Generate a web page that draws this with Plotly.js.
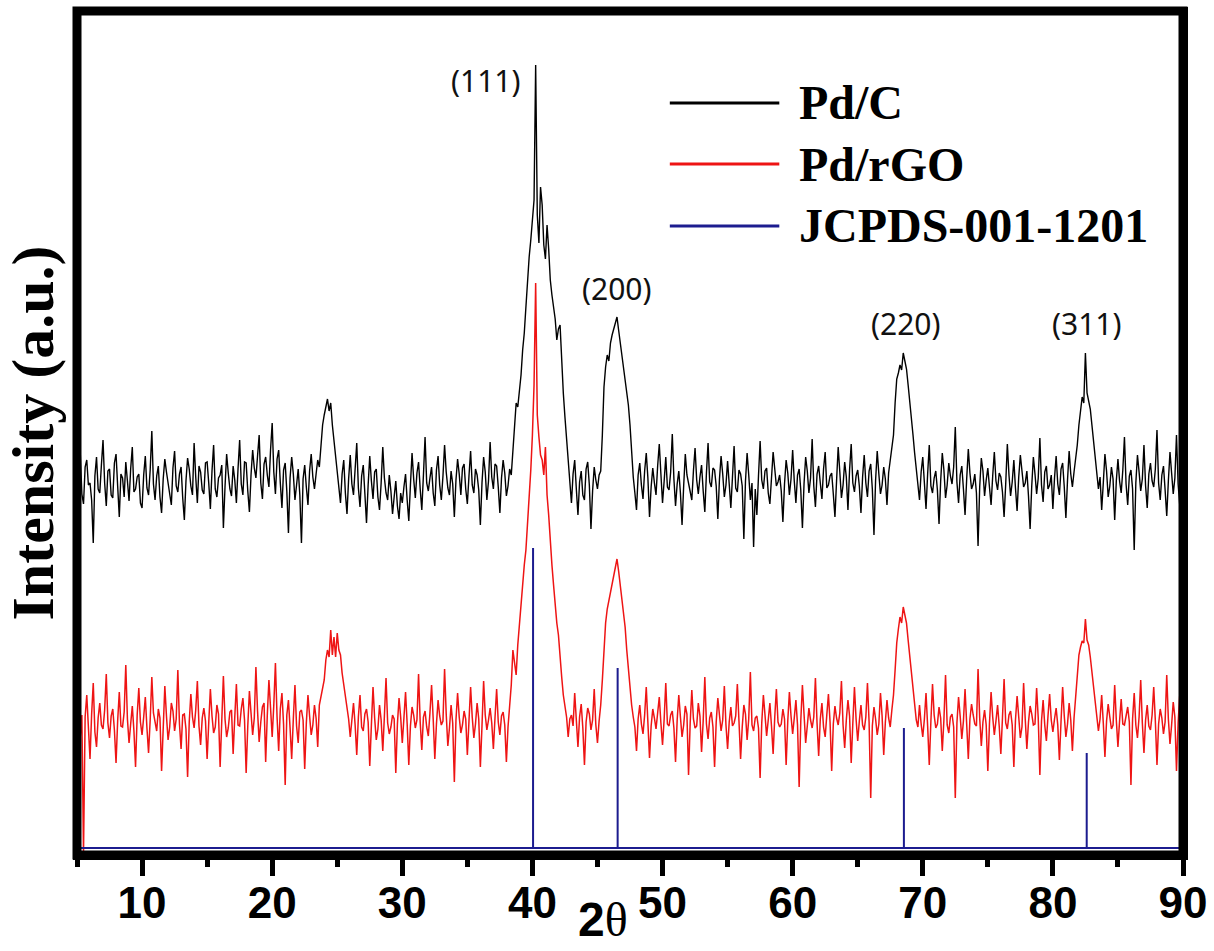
<!DOCTYPE html>
<html>
<head>
<meta charset="utf-8">
<script src="https://cdn.plot.ly/plotly-3.0.1.min.js"></script>
<style>
  html, body { margin: 0; padding: 0; background: #ffffff; }
  #chart { width: 1214px; height: 951px; }
</style>
</head>
<body>
<div id="chart"></div>
<script>
// ---- scan grid (2θ, degrees) ----
const scanStart = 5;
const scanStep = 0.125;

// ---- Pd/C intensities (a.u.), one row = 5° ----
const pdC = [
  368, 382, 402, 361, 351, 388, 395, 370, 372, 355, 312, 379, 398, 366, 362, 390, 415, 372, 349, 384, 386, 360, 357, 392, 401, 369, 338, 381, 377, 358, 393, 374, 354, 386, 408, 363, 366, 378, 381, 352,
  347, 380, 399, 367, 360, 385, 424, 371, 355, 379, 389, 358, 342, 376, 396, 383, 371, 362, 350, 387, 404, 369, 363, 381, 388, 357, 335, 374, 397, 386, 369, 360, 412, 378, 352, 389, 383, 365, 361, 392,
  393, 372, 346, 384, 410, 366, 358, 377, 380, 390, 327, 368, 401, 382, 366, 359, 389, 375, 352, 386, 415, 371, 360, 393, 392, 364, 343, 380, 405, 387, 377, 399, 420, 372, 356, 391, 398, 380, 368, 405,
  432, 383, 361, 396, 405, 372, 347, 385, 392, 364, 322, 377, 398, 381, 355, 370, 386, 360, 312, 376, 390, 368, 350, 384, 401, 378, 366, 381, 395, 388, 412, 430, 440, 448, 456, 444, 452, 430, 415, 400,
  378, 366, 352, 381, 395, 362, 341, 376, 400, 371, 360, 386, 412, 367, 348, 379, 390, 361, 332, 370, 399, 374, 356, 383, 386, 358, 345, 372, 408, 377, 362, 355, 380, 364, 341, 358, 374, 349, 336, 362,
  352, 368, 381, 355, 334, 370, 402, 376, 357, 382, 393, 366, 345, 380, 418, 372, 364, 377, 388, 362, 349, 385, 399, 370, 355, 379, 410, 383, 367, 360, 384, 371, 338, 375, 396, 381, 360, 387, 391, 366,
  351, 379, 404, 370, 362, 386, 380, 365, 330, 372, 398, 383, 355, 374, 413, 378, 366, 391, 389, 368, 342, 377, 395, 382, 359, 369, 386, 380, 402, 430, 452, 448, 462, 480, 505, 522, 548, 575, 598, 615,
  632, 655, 790, 640, 612, 668, 650, 610, 596, 630, 606, 575, 560, 548, 536, 515, 526, 530, 488, 462, 438, 415, 398, 372, 352, 381, 395, 366, 340, 373, 384, 360, 355, 386, 393, 370, 326, 364, 388, 375,
  366, 380, 384, 420, 468, 488, 500, 494, 512, 520, 526, 532, 538, 525, 512, 500, 490, 478, 466, 450, 430, 400, 378, 362, 345, 380, 392, 370, 356, 384, 402, 377, 338, 368, 387, 372, 360, 389, 411, 381,
  352, 374, 398, 368, 365, 383, 421, 376, 349, 371, 384, 362, 330, 369, 401, 380, 372, 366, 355, 384, 407, 375, 361, 378, 390, 364, 343, 382, 412, 373, 368, 387, 385, 369, 336, 376, 399, 381, 358, 370,
  394, 371, 347, 378, 409, 367, 363, 385, 381, 369, 316, 374, 402, 380, 355, 372, 308, 366, 340, 379, 414, 375, 366, 384, 387, 362, 351, 377, 403, 386, 369, 373, 380, 364, 333, 371, 395, 382, 360, 376,
  405, 374, 352, 380, 386, 365, 327, 371, 398, 384, 362, 377, 416, 369, 348, 381, 389, 372, 356, 386, 403, 367, 370, 379, 382, 361, 338, 374, 408, 383, 357, 370, 393, 378, 345, 385, 411, 372, 363, 379,
  385, 369, 342, 378, 400, 372, 358, 384, 391, 366, 320, 375, 404, 381, 361, 370, 388, 376, 350, 382, 397, 405, 420, 452, 476, 482, 490, 485, 502, 494, 486, 470, 455, 438, 420, 402, 385, 372, 355, 383,
  398, 372, 346, 381, 410, 369, 362, 377, 384, 365, 331, 374, 402, 385, 357, 370, 392, 379, 371, 388, 428, 373, 352, 380, 389, 366, 340, 376, 406, 382, 366, 371, 381, 362, 309, 368, 397, 384, 359, 375,
  387, 368, 350, 379, 403, 374, 365, 382, 378, 363, 338, 371, 411, 380, 359, 373, 395, 367, 344, 378, 400, 384, 368, 372, 384, 359, 326, 369, 398, 381, 361, 377, 417, 370, 353, 383, 389, 366, 370, 380,
  346, 377, 399, 371, 360, 386, 392, 368, 337, 375, 404, 381, 368, 383, 395, 410, 430, 448, 458, 452, 502, 462, 455, 446, 430, 415, 398, 380, 366, 378, 345, 372, 401, 384, 358, 369, 388, 376, 335, 374,
  396, 374, 362, 385, 418, 371, 350, 379, 385, 366, 305, 372, 400, 383, 364, 376, 410, 369, 347, 381, 392, 374, 368, 386, 425, 372, 355, 380, 389, 365, 339, 374, 403, 382, 361, 377, 420, 371, 350, 384,
  392
];

// ---- Pd/rGO intensities (a.u.), one row = 5° ----
const pdRGO = [
  150, 128, 118, 140,   2, 138, 160, 127,  96, 141, 172, 123, 108, 137, 152, 130, 126, 145, 181, 132, 117, 139, 146, 125,  92, 134, 163, 129, 128, 143, 190, 136, 112, 131, 149, 124,  88, 140, 167, 133,
  120, 138, 158, 127, 102, 135, 178, 142, 131, 124, 146, 137,  84, 130, 169, 139, 115, 128, 152, 144, 124, 136, 185, 131, 106, 140, 141, 126,  78, 133, 161, 138, 127, 145, 174, 129, 110, 137, 147, 134,
   96, 132, 166, 139, 122, 128, 150, 141,  88, 134, 179, 136, 118, 127, 143, 145, 101, 138, 171, 130, 129, 146, 157, 135,  82, 129, 164, 142, 120, 137, 188, 144, 113, 133, 148, 152,  93, 140, 175, 147,
  118, 150, 192, 138, 104, 146, 162, 131,  70, 140, 155, 127,  96, 136, 170, 129, 112, 143, 145, 135,  86, 132, 160, 139, 120, 130, 150, 137, 108, 150, 158, 168, 175, 195, 205, 198, 225, 200, 218, 198,
  222, 205, 200, 182, 170, 158, 145, 136, 118, 134, 152, 130, 100, 138, 160, 128, 124, 141, 146, 133,  89, 130, 168, 137, 115, 126, 150, 135, 104, 139, 177, 132, 121, 128, 140, 136,  82, 131, 157, 138,
  112, 137, 163, 131,  90, 129, 148, 140, 127, 135, 181, 133, 105, 138, 144, 128, 119, 142, 170, 136,  96, 131, 155, 139, 130, 134, 186, 141, 109, 127, 150, 132,  73, 135, 162, 138, 122, 130, 144, 136,
  100, 134, 168, 138, 117, 131, 152, 136,  88, 129, 174, 140, 125, 135, 147, 132, 106, 137, 166, 133, 120, 139, 143, 130,  93, 128, 150, 170, 205, 190, 180, 210, 232, 250, 270, 290, 305, 330, 352, 385,
  420, 470, 572, 440, 418, 400, 395, 380, 408, 360, 340, 312, 290, 270, 248, 232, 220, 196, 178, 160, 150, 138, 118, 136, 140, 129, 162, 134, 108, 138, 151, 127,  90, 133, 147, 141, 125, 135, 166, 130,
  112, 134, 150, 175, 205, 232, 246, 255, 262, 270, 282, 290, 296, 284, 270, 258, 246, 228, 205, 185, 166, 150, 138, 128, 104, 136, 150, 131, 121, 140, 168, 133,  97, 129, 146, 137, 126, 142, 158, 132,
  110, 136, 172, 131, 129, 140, 144, 127,  93, 135, 160, 138, 118, 130, 149, 141,  80, 132, 165, 136, 127, 129, 152, 139, 103, 134, 178, 131, 116, 137, 143, 128,  88, 133, 157, 140, 124, 135, 169, 130,
  106, 133, 148, 129, 132, 139, 171, 134,  96, 128, 150, 141, 115, 136, 183, 130, 124, 137, 139, 127,  77, 132, 160, 140, 119, 135, 152, 129, 101, 138, 166, 133, 128, 131, 146, 136,  90, 134, 163, 139,
  121, 137, 155, 130,  68, 134, 170, 141, 112, 129, 147, 135, 127, 138, 177, 132,  99, 136, 152, 128, 118, 140, 161, 133,  84, 131, 149, 137, 130, 142, 174, 130, 107, 135, 155, 139,  92, 132, 168, 136,
  114, 134, 150, 130, 125, 138, 172, 133,  57, 129, 148, 136, 120, 131, 162, 139, 100, 133, 155, 137, 128, 145, 160, 185, 212, 226, 238, 232, 248, 240, 232, 215, 200, 184, 168, 150, 135, 128, 150, 131,
  118, 136, 162, 129,  90, 134, 171, 140, 127, 131, 148, 137, 104, 135, 180, 130, 122, 138, 141, 128,  57, 132, 158, 139, 116, 134, 166, 131,  96, 136, 151, 140, 131, 129, 186, 137, 109, 133, 145, 130,
   84, 131, 163, 138, 120, 134, 150, 129, 101, 137, 176, 132, 126, 140, 144, 130,  88, 135, 159, 138, 117, 128, 172, 136, 106, 133, 149, 141, 130, 131, 167, 137,  80, 134, 155, 130, 114, 139, 161, 135,
  123, 136, 147, 130,  95, 133, 168, 139, 118, 131, 152, 135, 104, 137, 158, 178, 200, 208, 214, 212, 236, 215, 210, 198, 182, 165, 150, 138, 124, 136, 160, 132,  98, 134, 151, 138, 126, 130, 170, 135,
  108, 134, 156, 131, 130, 139, 148, 133,  70, 136, 162, 130, 117, 138, 175, 132, 102, 135, 150, 129, 125, 140, 168, 134,  90, 131, 146, 137, 121, 133, 180, 136, 111, 130, 153, 138,  84, 132, 160, 135,
  130
];

// ---- JCPDS-001-1201 reference lines ----
const refPositions = [40.05, 46.55, 68.55, 82.6];
const refTops = [307, 187, 127, 102];
const refBaseline = 7;

// ---- labels ----
const seriesNames = ['Pd/C', 'Pd/rGO', 'JCPDS-001-1201'];
const seriesColors = ['#000000', '#ee1414', '#1c1c8f'];
const peakLabels = ['(111)', '(200)', '(220)', '(311)'];
const xTickValues = [10, 20, 30, 40, 50, 60, 70, 80, 90];

const twoTheta = pdC.map((_, i) => +(scanStart + i * scanStep).toFixed(3));

// stick pattern for the reference card
const refX = [scanStart];
const refY = [refBaseline];
refPositions.forEach((p, i) => {
  refX.push(p, p, p);
  refY.push(refBaseline, refTops[i], refBaseline);
});
refX.push(90);
refY.push(refBaseline);

const traces = [
  { x: twoTheta, y: pdC, type: 'scatter', mode: 'lines', name: seriesNames[0],
    line: { color: seriesColors[0], width: 1.4 }, showlegend: false },
  { x: twoTheta, y: pdRGO, type: 'scatter', mode: 'lines', name: seriesNames[1],
    line: { color: seriesColors[1], width: 1.5 }, showlegend: false },
  { x: refX, y: refY, type: 'scatter', mode: 'lines', name: seriesNames[2],
    line: { color: seriesColors[2], width: 2 }, showlegend: false }
];

// custom legend (long sample lines)
const legendY = [0.891, 0.8187, 0.7453];
const shapes = [
  { type: 'rect', xref: 'paper', yref: 'paper', x0: 0, x1: 1, y0: 0, y1: 1,
    line: { color: '#000', width: 9 }, layer: 'above' }
];
const annotations = [];
seriesNames.forEach((name, i) => {
  shapes.push({ type: 'line', xref: 'paper', yref: 'paper',
    x0: 0.536, x1: 0.635, y0: legendY[i], y1: legendY[i],
    line: { color: seriesColors[i], width: 3 } });
  annotations.push({ xref: 'paper', yref: 'paper', x: 0.651, y: legendY[i],
    xanchor: 'left', yanchor: 'middle', showarrow: false, text: name,
    font: { family: 'Liberation Serif, Times New Roman, serif', size: 48, weight: 'bold', color: '#000' } });
});

const peakPos = [[36.43, 775], [46.5, 567], [68.7, 532], [82.6, 532]];
peakLabels.forEach((t, i) => {
  annotations.push({ xref: 'x', yref: 'y', x: peakPos[i][0], y: peakPos[i][1],
    xanchor: 'center', yanchor: 'middle', showarrow: false, text: t,
    font: { family: 'Noto Sans, Open Sans, sans-serif', size: 30, color: '#111' } });
});

annotations.push({ xref: 'paper', yref: 'paper', x: 0.4756, y: -0.0765,
  xanchor: 'center', yanchor: 'middle', showarrow: false,
  text: '<b>2</b><span style="font-family:Liberation Serif, serif">θ</span>',
  font: { family: 'Liberation Sans, Arial, sans-serif', size: 48, color: '#000' } });

const layout = {
  width: 1214, height: 951,
  margin: { l: 77, r: 31, t: 11, b: 96, pad: 0 },
  paper_bgcolor: '#ffffff', plot_bgcolor: '#ffffff',
  showlegend: false,
  xaxis: {
    range: [5, 90], tickmode: 'array', tickvals: xTickValues,
    ticks: 'outside', ticklen: 16, tickwidth: 5, tickcolor: '#000',
    minor: { dtick: 5, tick0: 0, ticks: 'outside', ticklen: 7, tickwidth: 5, tickcolor: '#000' },
    showgrid: false, zeroline: false,
    showline: true, linewidth: 4.5, linecolor: '#000', mirror: true,
    tickfont: { family: 'Liberation Sans, Arial, sans-serif', size: 44, weight: 'bold', color: '#000' },
    ticklabelstandoff: -10
  },
  yaxis: {
    range: [0, 844], showticklabels: false, ticks: '', showgrid: false, zeroline: false,
    showline: true, linewidth: 4.5, linecolor: '#000', mirror: true,
    title: { text: 'Intensity (a.u.)', standoff: 4,
      font: { family: 'Liberation Serif, Times New Roman, serif', size: 60, weight: 'bold', color: '#000' } }
  },
  shapes: shapes,
  annotations: annotations
};

Plotly.newPlot('chart', traces, layout, { displayModeBar: false, staticPlot: true });
</script>
</body>
</html>
